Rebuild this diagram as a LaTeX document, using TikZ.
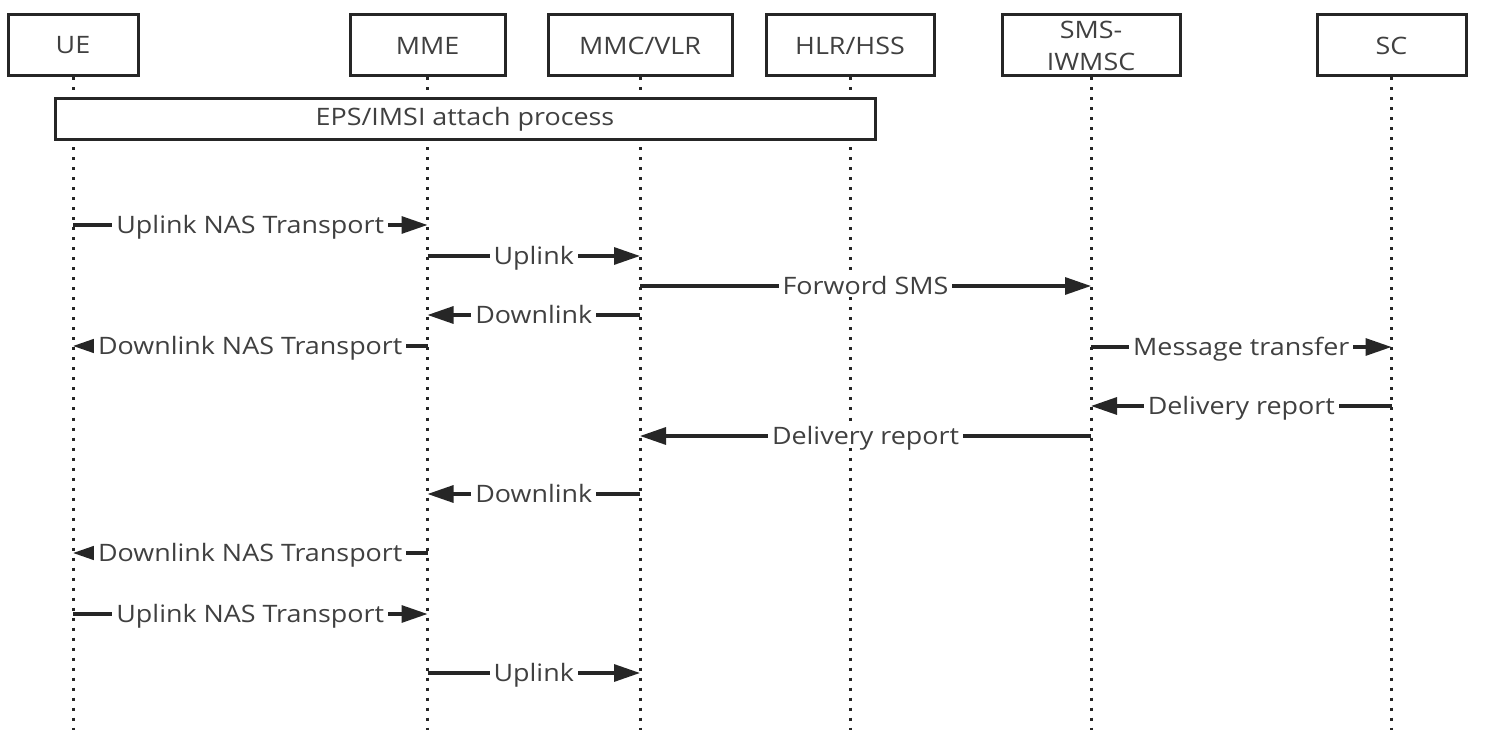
\documentclass[tikz,border=0pt]{standalone}
\usepackage{fontspec}
\setmainfont{Open Sans}[FakeStretch=1.12]
\usetikzlibrary{arrows.meta}
\definecolor{linegray}{HTML}{262626}
\definecolor{textgray}{HTML}{404040}
\begin{document}
\begin{tikzpicture}[x=0.5pt,y=-0.5pt,font=\fontsize{12}{16}\selectfont,text=textgray]
    \tikzstyle{entity} = [draw=linegray,line width=1.5pt,fill=white,minimum height=30.5pt,align=center,inner sep=0pt]
    \tikzstyle{lifeline} = [draw=linegray,line width=1.5pt,dash pattern=on 1.5pt off 3.5pt]
    \tikzstyle{msg} = [draw=linegray,line width=1.6pt,-{Triangle[length=13pt,width=8.5pt]}]
    \tikzstyle{lbl} = [fill=white,inner xsep=2pt,inner ysep=0pt,text height=9.5pt,text depth=1pt,midway]

    \useasboundingbox (0,0) rectangle (1486,742);

    % the six entities
    \node[entity,minimum width=65pt] (ue) at (73,45.5) {UE};
    \node[entity,minimum width=77.5pt] (mme) at (427.5,45.5) {MME};
    \node[entity,minimum width=92pt] (vlr) at (640,45.5) {MMC/VLR};
    \node[entity,minimum width=84pt] (hlr) at (850,45.5) {HLR/HSS};
    \node[entity,minimum width=89pt] (iwmsc) at (1091,45.5) {SMS-\\IWMSC};
    \node[entity,minimum width=74.5pt] (sc) at (1391.5,45.5) {SC};

    % lifelines
    \coordinate (bottom) at (0,730);
    \draw[lifeline] (ue.south) -- (ue |- bottom);
    \draw[lifeline] (mme.south) -- (mme |- bottom);
    \draw[lifeline] (vlr.south) -- (vlr |- bottom);
    \draw[lifeline] (hlr.south) -- (hlr |- bottom);
    \draw[lifeline] (iwmsc.south) -- (iwmsc |- bottom);
    \draw[lifeline] (sc.south) -- (sc |- bottom);

    \node[entity,minimum width=410pt,minimum height=20.5pt] (attach) at (465,119.5) {EPS/IMSI attach process};

    % messages
    \coordinate (m1) at (0,225);
    \coordinate (m2) at (0,256);
    \coordinate (m3) at (0,286);
    \coordinate (m4) at (0,315);
    \coordinate (m5) at (0,346);
    \coordinate (m6) at (0,347);
    \coordinate (m7) at (0,406);
    \coordinate (m8) at (0,436);
    \coordinate (m9) at (0,494);
    \coordinate (m10) at (0,553);
    \coordinate (m11) at (0,614);
    \coordinate (m12) at (0,673);

    \draw[msg] (ue |- m1) -- node[lbl] {Uplink NAS Transport} (mme |- m1);
    \draw[msg] (mme |- m2) -- node[lbl] {Uplink} (vlr |- m2);
    \draw[msg] (vlr |- m3) -- node[lbl] {Forword SMS} (iwmsc |- m3);
    \draw[msg] (vlr |- m4) -- node[lbl] {Downlink} (mme |- m4);
    \draw[msg] (mme |- m5) -- node[lbl] {Downlink NAS Transport} (ue |- m5);
    \draw[msg] (iwmsc |- m6) -- node[lbl] {Message transfer} (sc |- m6);
    \draw[msg] (sc |- m7) -- node[lbl] {Delivery report} (iwmsc |- m7);
    \draw[msg] (iwmsc |- m8) -- node[lbl] {Delivery report} (vlr |- m8);
    \draw[msg] (vlr |- m9) -- node[lbl] {Downlink} (mme |- m9);
    \draw[msg] (mme |- m10) -- node[lbl] {Downlink NAS Transport} (ue |- m10);
    \draw[msg] (ue |- m11) -- node[lbl] {Uplink NAS Transport} (mme |- m11);
    \draw[msg] (mme |- m12) -- node[lbl] {Uplink} (vlr |- m12);
\end{tikzpicture}
\end{document}
